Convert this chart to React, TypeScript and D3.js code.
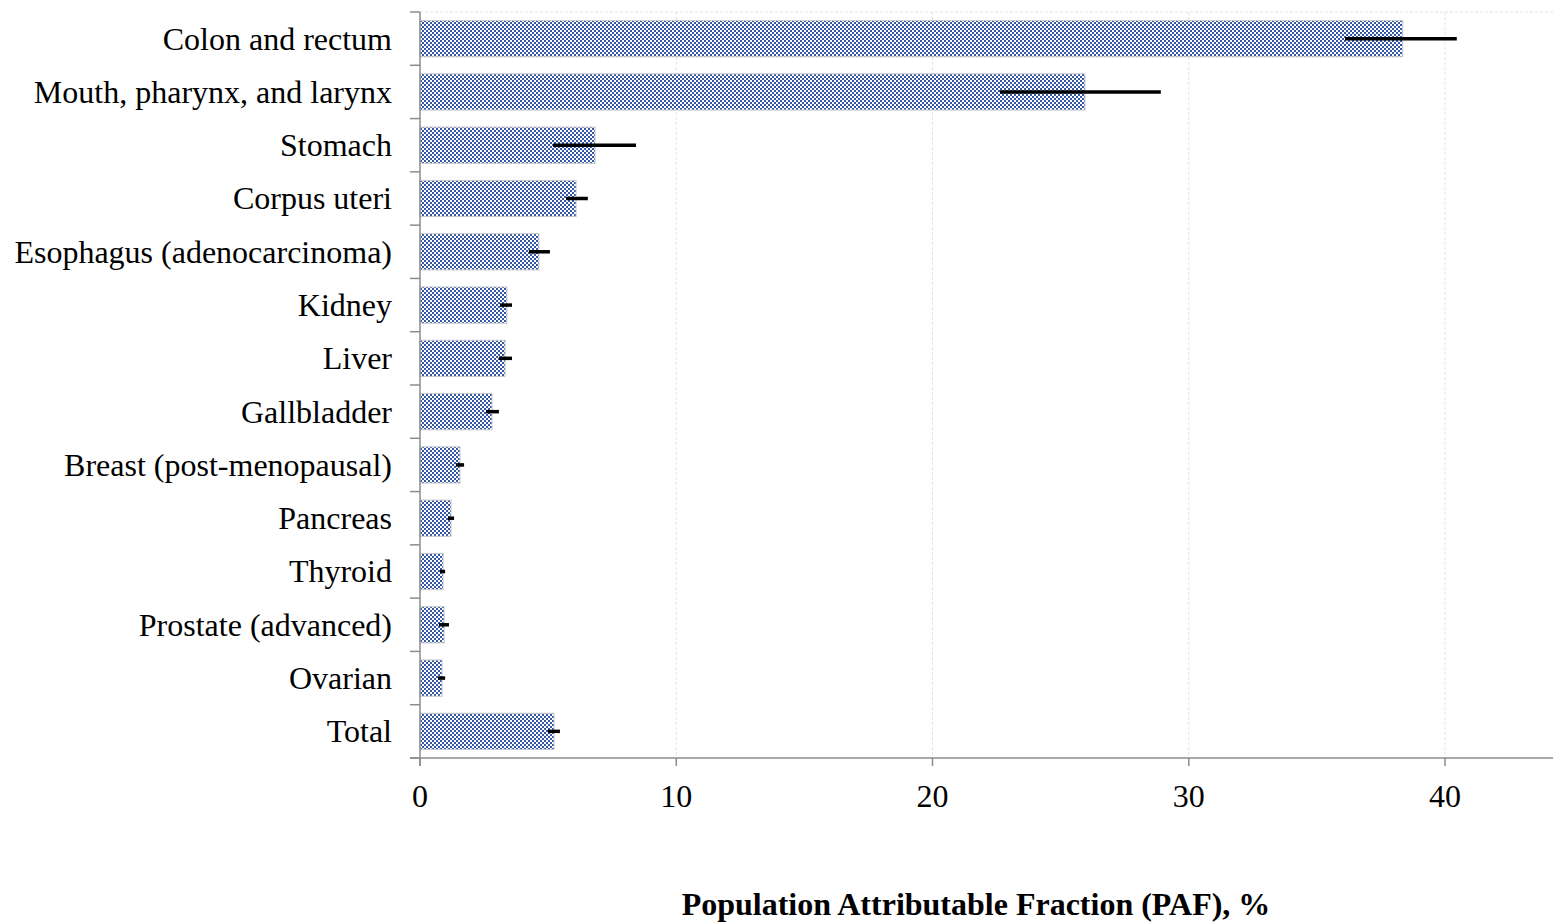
import React from "react";
import * as d3 from "d3";

// Cancer sites, in display order (top to bottom)
const categories = [
  "Colon and rectum",
  "Mouth, pharynx, and larynx",
  "Stomach",
  "Corpus uteri",
  "Esophagus (adenocarcinoma)",
  "Kidney",
  "Liver",
  "Gallbladder",
  "Breast (post-menopausal)",
  "Pancreas",
  "Thyroid",
  "Prostate (advanced)",
  "Ovarian",
  "Total",
];

// PAF point estimates, %
const paf = [38.35, 25.95, 6.83, 6.09, 4.64, 3.39, 3.32, 2.81, 1.56, 1.21, 0.9, 0.94, 0.86, 5.23];
// Lower and upper uncertainty bounds, %
const lower = [36.1, 22.63, 5.19, 5.7, 4.25, 3.12, 3.08, 2.58, 1.4, 1.09, 0.78, 0.74, 0.7, 4.99];
const upper = [40.46, 28.91, 8.43, 6.55, 5.07, 3.59, 3.59, 3.08, 1.72, 1.33, 0.98, 1.13, 0.98, 5.46];

const xTicks = [0, 10, 20, 30, 40];
const axisTitle = "Population Attributable Fraction (PAF), %";

const W = 1554;
const H = 923;
const plotLeft = 420;
const plotRight = 1553;
const plotTop = 12;
const plotBottom = 758;
const font = "'Liberation Serif', 'Times New Roman', serif";

export default function App() {
  const x = d3.scaleLinear().domain([0, 40]).range([plotLeft, 1445]);
  const y = d3
    .scaleBand<string>()
    .domain(categories)
    .range([plotTop, plotBottom])
    .paddingInner(0.32)
    .paddingOuter(0.16);
  const bandEdges = d3
    .range(categories.length + 1)
    .map((i) => plotTop + i * ((plotBottom - plotTop) / categories.length));

  return (
    <svg
      width={W}
      height={H}
      style={{ position: "absolute", left: 0, top: 0, background: "#fff" }}
    >
      <defs>
        <pattern id="checker" width={4} height={4} patternUnits="userSpaceOnUse">
          <rect width={4} height={4} fill="#ffffff" />
          <rect x={0} y={0} width={2} height={2} fill="#3558a6" />
          <rect x={2} y={2} width={2} height={2} fill="#3558a6" />
        </pattern>
      </defs>

      {/* top border line */}
      <line x1={plotLeft} x2={plotRight} y1={plotTop} y2={plotTop} stroke="#e4e4e4" strokeDasharray="3,2" />

      {/* vertical gridlines */}
      {xTicks.slice(1).map((t) => (
        <line key={t} x1={x(t)} x2={x(t)} y1={plotTop} y2={plotBottom} stroke="#e4e4e4" strokeDasharray="3,2" />
      ))}

      {/* bars */}
      {categories.map((c, i) => (
        <rect
          key={c}
          x={x(0)}
          y={y(c)!}
          width={x(paf[i]) - x(0)}
          height={y.bandwidth()}
          fill="url(#checker)"
          stroke="#c8c8c8"
          strokeWidth={1}
        />
      ))}

      {/* error bars */}
      {categories.map((c, i) => {
        const cy = y(c)! + y.bandwidth() / 2;
        return (
          <line
            key={c}
            x1={x(lower[i])}
            x2={x(upper[i])}
            y1={cy}
            y2={cy}
            stroke="#000"
            strokeWidth={3.5}
          />
        );
      })}

      {/* y axis */}
      <line x1={plotLeft} x2={plotLeft} y1={plotTop} y2={plotBottom + 8} stroke="#8c8c8c" strokeWidth={1.5} />
      {bandEdges.map((e, i) => (
        <line key={i} x1={plotLeft - 10} x2={plotLeft} y1={e} y2={e} stroke="#8c8c8c" strokeWidth={1.5} />
      ))}

      {/* x axis */}
      <line x1={plotLeft - 10} x2={plotRight} y1={plotBottom} y2={plotBottom} stroke="#8c8c8c" strokeWidth={1.5} />
      {xTicks.map((t) => (
        <g key={t}>
          <line x1={x(t)} x2={x(t)} y1={plotBottom} y2={plotBottom + 8} stroke="#8c8c8c" strokeWidth={1.5} />
          <text x={x(t)} y={807} textAnchor="middle" fontFamily={font} fontSize={32} fill="#000">
            {t}
          </text>
        </g>
      ))}

      {/* category labels */}
      {categories.map((c) => (
        <text
          key={c}
          x={392}
          y={y(c)! + y.bandwidth() / 2}
          dy="0.34em"
          textAnchor="end"
          fontFamily={font}
          fontSize={32}
          fill="#000"
        >
          {c}
        </text>
      ))}

      {/* axis title */}
      <text x={976} y={915} textAnchor="middle" fontFamily={font} fontSize={32} fontWeight="bold" fill="#000">
        {axisTitle}
      </text>
    </svg>
  );
}
